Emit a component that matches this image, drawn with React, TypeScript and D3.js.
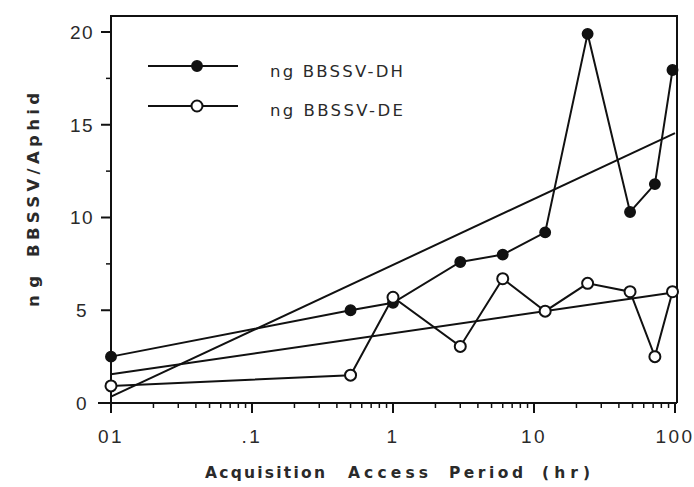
import React from "react";
import * as d3 from "d3";

const hours = [0.01, 0.5, 1, 3, 6, 12, 24, 48, 72, 96];
const dhValues = [2.5, 5.0, 5.4, 7.6, 8.0, 9.2, 19.9, 10.3, 11.8, 17.95];
const deValues = [0.92, 1.5, 5.7, 3.05, 6.7, 4.95, 6.45, 6.0, 2.5, 6.0];
const regX = [0.01, 100];
const dhRegression = [0.34, 14.55];
const deRegression = [1.55, 5.97];
const xTickValues = [0.01, 0.1, 1, 10, 100];
const xTickLabels = ["01", ".1", "1", "10", "100"];
const yTickValues = [0, 5, 10, 15, 20];
const yMinorValues = [2.5, 7.5, 12.5, 17.5];
const seriesNames = ["ng BBSSV-DH", "ng BBSSV-DE"];

const W = 694;
const H = 487;
const INK = "#111";
const TXT = "#2a2a2a";

export default function App() {
  const x = d3.scaleLog().domain([0.01, 100]).range([111, 675]);
  const y = d3.scaleLinear().domain([0, 20]).range([403, 32]);
  const top = 16;
  const right = 677;
  const left = x(0.01);
  const bottom = y(0);

  const line = d3
    .line<[number, number]>()
    .x((d) => x(d[0]))
    .y((d) => y(d[1]));

  const dhPts = hours.map((h, i) => [h, dhValues[i]] as [number, number]);
  const dePts = hours.map((h, i) => [h, deValues[i]] as [number, number]);
  const dhReg = regX.map((h, i) => [h, dhRegression[i]] as [number, number]);
  const deReg = regX.map((h, i) => [h, deRegression[i]] as [number, number]);

  const minorX: number[] = [];
  for (let e = -2; e < 2; e++) {
    for (let m = 2; m <= 9; m++) minorX.push(m * Math.pow(10, e));
  }

  const tickFont = "'Liberation Sans', Arial, Helvetica, sans-serif";
  const titleFont = "'DejaVu Sans', Verdana, sans-serif";

  return (
    <svg
      width={W}
      height={H}
      viewBox={`0 0 ${W} ${H}`}
      style={{ position: "absolute", left: 0, top: 0, background: "#fff" }}
      fontFamily={tickFont}
    >
      <rect x={0} y={0} width={W} height={H} fill="#fff" />
      {/* frame */}
      <path
        d={`M${left},${bottom} L${left},${top} L${right},${top} L${right},${bottom}`}
        fill="none"
        stroke={INK}
        strokeWidth={2}
      />
      <line x1={98} x2={right} y1={bottom} y2={bottom} stroke={INK} strokeWidth={2} />

      {/* y ticks */}
      {yTickValues.map((v) => (
        <g key={"yt" + v}>
          <line x1={left - 10} x2={left} y1={y(v)} y2={y(v)} stroke={INK} strokeWidth={2} />
          <text
            x={82}
            y={y(v)}
            dy="0.36em"
            textAnchor="middle"
            fontSize={19}
            fill={TXT}
            letterSpacing={1.5}
          >
            {v}
          </text>
        </g>
      ))}
      {yMinorValues.map((v) => (
        <line key={"ym" + v} x1={left - 5} x2={left} y1={y(v)} y2={y(v)} stroke={INK} strokeWidth={1.5} />
      ))}

      {/* x ticks */}
      {xTickValues.map((v, i) => (
        <g key={"xt" + v}>
          <line x1={x(v)} x2={x(v)} y1={bottom} y2={bottom + 10} stroke={INK} strokeWidth={2} />
          <text
            x={x(v)}
            y={443}
            textAnchor="middle"
            fontSize={19}
            fill={TXT}
            letterSpacing={2.5}
          >
            {xTickLabels[i]}
          </text>
        </g>
      ))}
      {minorX.map((v) => (
        <line key={"xm" + v} x1={x(v)} x2={x(v)} y1={bottom} y2={bottom + 5} stroke={INK} strokeWidth={1.5} />
      ))}

      {/* regression lines */}
      <path d={line(dhReg) || ""} fill="none" stroke={INK} strokeWidth={2} />
      <path d={line(deReg) || ""} fill="none" stroke={INK} strokeWidth={2} />

      {/* data lines */}
      <path d={line(dhPts) || ""} fill="none" stroke={INK} strokeWidth={2} />
      <path d={line(dePts) || ""} fill="none" stroke={INK} strokeWidth={2} />

      {dhPts.map((p, i) => (
        <circle key={"dh" + i} cx={x(p[0])} cy={y(p[1])} r={5.2} fill={INK} stroke={INK} strokeWidth={1.5} />
      ))}
      {dePts.map((p, i) => (
        <circle key={"de" + i} cx={x(p[0])} cy={y(p[1])} r={5.5} fill="#fff" stroke={INK} strokeWidth={2} />
      ))}

      {/* legend */}
      {seriesNames.map((name, i) => {
        const ly = i === 0 ? 66 : 106;
        const by = i === 0 ? 77 : 116;
        return (
          <g key={name}>
            <line x1={148} x2={238} y1={ly} y2={ly} stroke={INK} strokeWidth={2} />
            {i === 0 ? (
              <circle cx={197} cy={ly} r={5.2} fill={INK} stroke={INK} strokeWidth={1.5} />
            ) : (
              <circle cx={197} cy={ly} r={5.5} fill="#fff" stroke={INK} strokeWidth={2} />
            )}
            <text
              x={270}
              y={by}
              fontSize={16.5}
              fontFamily={titleFont}
              fill={TXT}
              textLength={133}
              lengthAdjust="spacing"
            >
              {name}
            </text>
          </g>
        );
      })}

      {/* x axis title */}
      <text y={478} fontSize={15.5} fontWeight="bold" fill={TXT} fontFamily={titleFont}>
        <tspan x={205} textLength={120} lengthAdjust="spacing">Acquisition</tspan>
        <tspan x={348} textLength={80} lengthAdjust="spacing">Access</tspan>
        <tspan x={449} textLength={74} lengthAdjust="spacing">Period</tspan>
        <tspan x={542} textLength={48} lengthAdjust="spacing">(hr)</tspan>
      </text>

      {/* y axis title */}
      <text
        transform="translate(39,307) rotate(-90)"
        fontSize={16.5}
        fontWeight="bold"
        fill={TXT}
        fontFamily={titleFont}
      >
        <tspan x={0} textLength={31} lengthAdjust="spacing">ng</tspan>
        <tspan x={50} textLength={164} lengthAdjust="spacing">BBSSV/Aphid</tspan>
      </text>
    </svg>
  );
}
